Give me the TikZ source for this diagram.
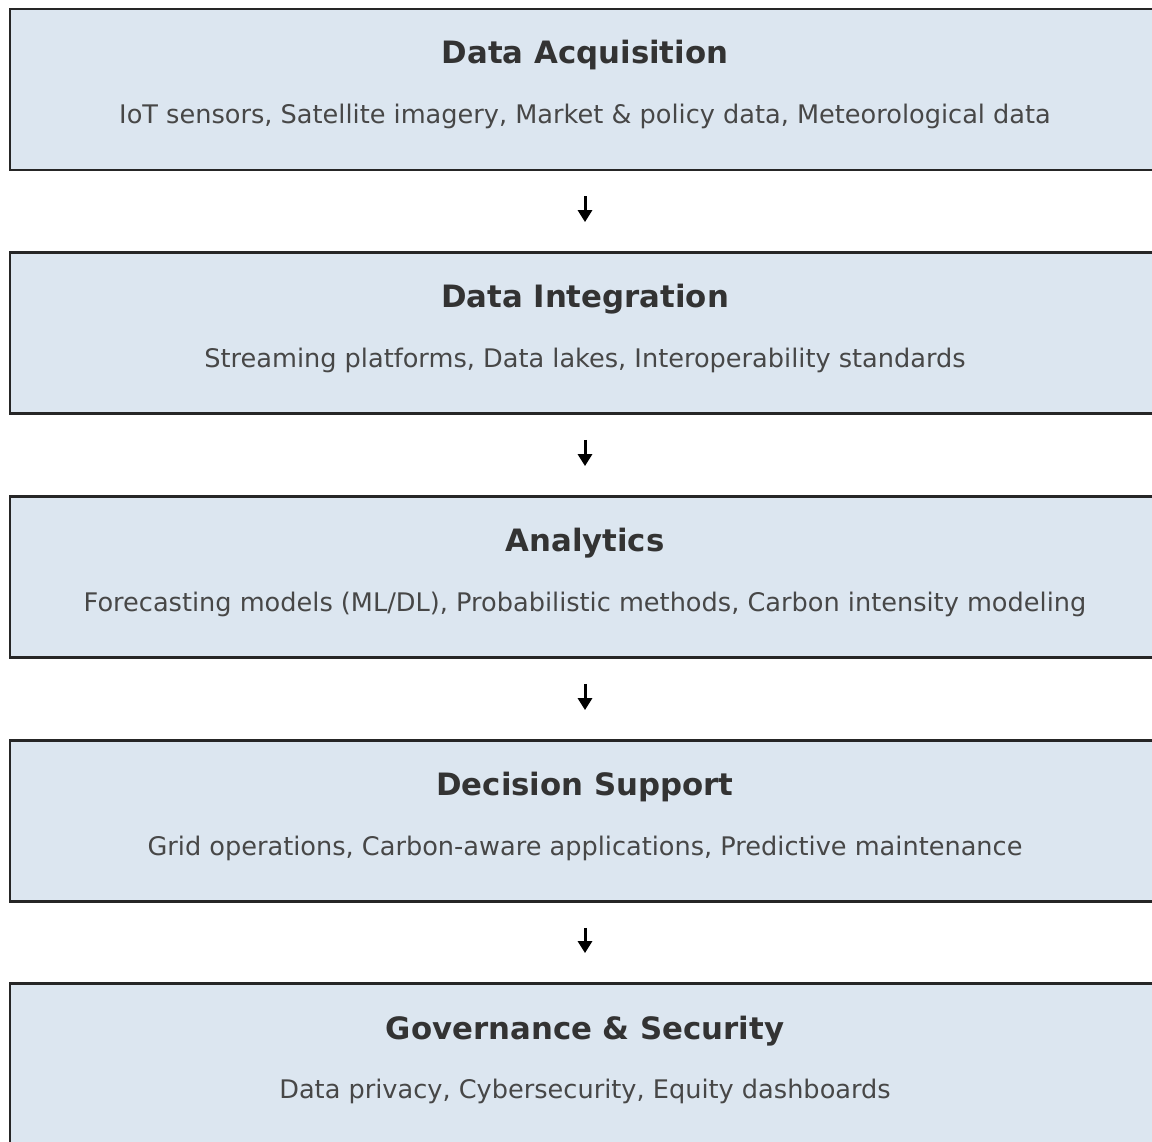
\documentclass[tikz,border=0pt]{standalone}
\usepackage{fontspec}
\setmainfont{DejaVu Sans}
\usetikzlibrary{arrows.meta}
\definecolor{boxfill}{HTML}{DCE6F0}
\definecolor{txt}{HTML}{333333}
\tikzset{
  stage/.style={draw=black!85, line width=2.8pt, fill=boxfill, rectangle, minimum width=1150pt, minimum height=161pt, inner sep=0pt},
  ttl/.style={text=txt, font=\fontsize{30.8}{36}\selectfont\bfseries, inner sep=0pt, anchor=center},
  sub/.style={text=txt!90, font=\fontsize{25.6}{30}\selectfont, inner sep=0pt, anchor=center},
  flow/.style={-{Triangle[length=12pt,width=14pt]}, line width=3pt, black, shorten <=25pt, shorten >=29pt}
}
\begin{document}
\begin{tikzpicture}[x=1pt,y=-1pt]
\clip (0,0) rectangle (1152,1142);
\useasboundingbox (0,0) rectangle (1152,1142);
\fill[white] (0,0) rectangle (1152,1142);
\node[stage] (b1) at (585,89.5) {};
\node[stage] (b2) at (585,333) {};
\node[stage] (b3) at (585,577) {};
\node[stage] (b4) at (585,821) {};
\node[stage] (b5) at (585,1064) {};
\node[ttl] (t1) at (585,55) {Data Acquisition};
\node[sub] (s1) at (585,116) {IoT sensors, Satellite imagery, Market \& policy data, Meteorological data};
\node[ttl] (t2) at (585,299) {Data Integration};
\node[sub] (s2) at (585,360) {Streaming platforms, Data lakes, Interoperability standards};
\node[ttl] (t3) at (585,543) {Analytics};
\node[sub] (s3) at (585,604) {Forecasting models (ML/DL), Probabilistic methods, Carbon intensity modeling};
\node[ttl] (t4) at (585,787) {Decision Support};
\node[sub] (s4) at (585,848) {Grid operations, Carbon-aware applications, Predictive maintenance};
\node[ttl] (t5) at (585,1031) {Governance \& Security};
\node[sub] (s5) at (585,1091) {Data privacy, Cybersecurity, Equity dashboards};
\draw[flow] (b1) -- (b2);
\draw[flow] (b2) -- (b3);
\draw[flow] (b3) -- (b4);
\draw[flow] (b4) -- (b5);
\end{tikzpicture}
\end{document}
